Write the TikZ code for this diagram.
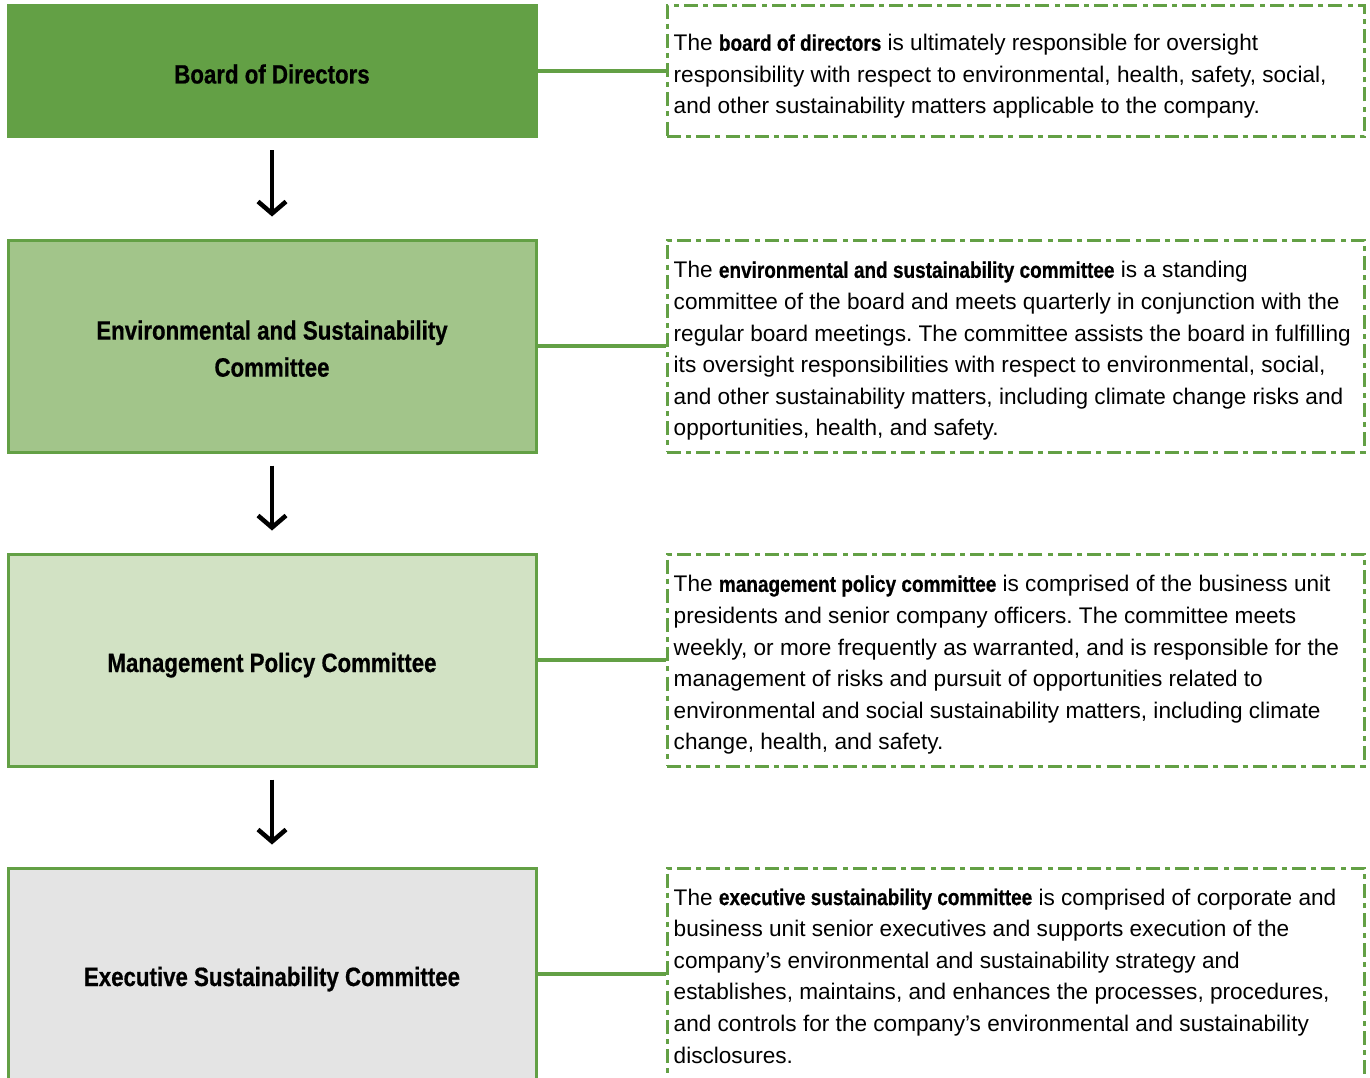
\documentclass[tikz,border=0pt]{standalone}
\usepackage{fontspec}
\setmainfont{Liberation Sans}
\newfontfamily\condfont[FakeStretch=0.84,FakeBold=0.6]{Liberation Sans}
\usepackage{tikz}
\usetikzlibrary{arrows.meta,positioning}
\definecolor{boardgreen}{HTML}{63A045}
\definecolor{esgreen}{HTML}{A2C58A}
\definecolor{mpgreen}{HTML}{D2E2C4}
\definecolor{exgrey}{HTML}{E4E4E4}
\newcommand{\hl}[1]{{\condfont\bfseries #1}}
\frenchspacing

\begin{document}
\begin{tikzpicture}[x=1pt,y=1pt,node distance=743.5pt,on grid,
   board/.style={rectangle,draw=boardgreen,line width=3pt,minimum width=528pt,
      minimum height=212pt,align=center,text height=24pt,text depth=0pt,
      font=\condfont\bfseries\fontsize{26.5}{37}\selectfont},
   note/.style={rectangle,draw=boardgreen,line width=3pt,
      dash pattern=on 14pt off 5pt on 5pt off 5.3pt,minimum width=697pt,minimum height=212pt},
   notetext/.style={anchor=west,align=left,inner sep=0pt,font=\fontsize{22.6}{31.6}\selectfont},
   link/.style={draw=boardgreen,line width=4pt},
   flow/.style={line width=4.5pt,-{Straight Barb[length=12pt,width=28pt]},shorten <=12pt,shorten >=22pt}]
   \useasboundingbox (0,0) rectangle (1370,-1078);
   \clip (0,0) rectangle (1370,-1078);
   % committees
   \node [board,fill=boardgreen,minimum height=131pt] (B_1) at (272,-71.5) {Board of Directors};
   \node [board,fill=esgreen,text height=,text depth=] (B_2) [below=274.5pt of B_1] {\rule{0pt}{24.5pt}Environmental and Sustainability\\Committee};
   \node [board,fill=mpgreen] (B_3) [below=314pt of B_2] {Management Policy Committee};
   \node [board,fill=exgrey] (B_4) [below=314pt of B_3] {Executive Sustainability Committee};
   % descriptions
   \node [note,minimum height=131pt] (D_1) [right=of B_1] {};
   \node [note] (D_2) [right=of B_2] {};
   \node [note] (D_3) [right=of B_3] {};
   \node [note] (D_4) [right=of B_4] {};
   \node [notetext] (T_1) at ([xshift=8pt,yshift=-5pt]D_1.west) {The \hl{board of directors} is ultimately responsible for oversight\\
      responsibility with respect to environmental, health, safety, social,\\
      and other sustainability matters applicable to the company.};
   \node [notetext] (T_2) at ([xshift=8pt,yshift=-5pt]D_2.west) {The \hl{environmental and sustainability committee} is a standing\\
      committee of the board and meets quarterly in conjunction with the\\
      regular board meetings. The committee assists the board in fulfilling\\
      its oversight responsibilities with respect to environmental, social,\\
      and other sustainability matters, including climate change risks and\\
      opportunities, health, and safety.};
   \node [notetext] (T_3) at ([xshift=8pt,yshift=-5pt]D_3.west) {The \hl{management policy committee} is comprised of the business unit\\
      presidents and senior company officers. The committee meets\\
      weekly, or more frequently as warranted, and is responsible for the\\
      management of risks and pursuit of opportunities related to\\
      environmental and social sustainability matters, including climate\\
      change, health, and safety.};
   \node [notetext] (T_4) at ([xshift=8pt,yshift=-2pt]D_4.west) {The \hl{executive sustainability committee} is comprised of corporate and\\
      business unit senior executives and supports execution of the\\
      company’s environmental and sustainability strategy and\\
      establishes, maintains, and enhances the processes, procedures,\\
      and controls for the company’s environmental and sustainability\\
      disclosures.};
   % connectors
   \foreach \i in {1,...,4}
      \draw [link] (B_\i.east) -- (D_\i.west);
   \draw [flow] (B_1) -- (B_2);
   \draw [flow] (B_2) -- (B_3);
   \draw [flow] (B_3) -- (B_4);
\end{tikzpicture}
\end{document}
